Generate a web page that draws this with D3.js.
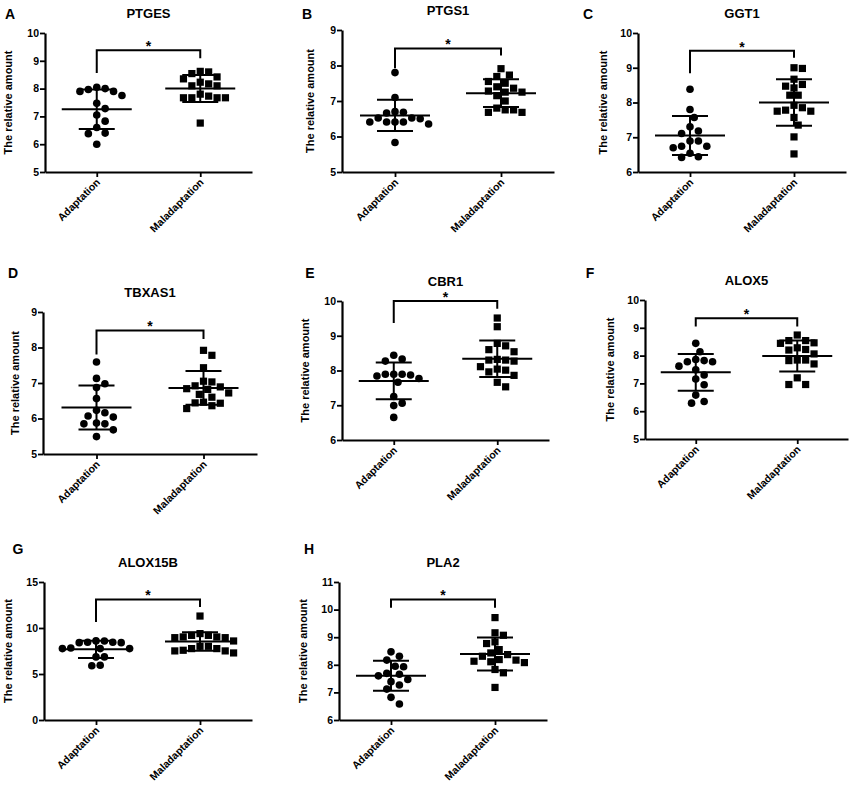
<!DOCTYPE html>
<html>
<head>
<meta charset="utf-8">
<script src="https://cdn.jsdelivr.net/npm/d3@7"></script>
<style>
  body { margin: 0; background: #fff; }
  text { font-family: "Liberation Sans", Arial, sans-serif; font-weight: bold; fill: #000; }
</style>
</head>
<body>
<script>
const width = 856,
    height = 786;

// chart data
const groups = ['Adaptation', 'Maladaptation'];
const genes = ['PTGES', 'PTGS1', 'GGT1', 'TBXAS1', 'CBR1', 'ALOX5', 'ALOX15B', 'PLA2'];
const letters = ['A', 'B', 'C', 'D', 'E', 'F', 'G', 'H'];
const yDomains = [[5, 10], [5, 9], [6, 10], [5, 9], [6, 10], [5, 10], [0, 15], [6, 11]];
const yTickStep = [1, 1, 1, 1, 1, 1, 5, 1];

const adaptation = [
  [8.0, 7.9, 8.05, 7.9, 7.97, 7.75, 7.47, 7.28, 7.05, 6.83, 6.6, 6.4, 6.38, 6.0],
  [7.80, 7.10, 6.70, 6.68, 6.66, 6.52, 6.50, 6.41, 6.41, 6.35, 6.41, 6.41, 6.52, 5.83],
  [8.38, 7.80, 7.57, 7.30, 7.18, 7.11, 6.89, 6.89, 6.74, 6.70, 6.74, 6.54, 6.42, 6.44],
  [7.59, 7.13, 6.87, 6.98, 6.56, 6.16, 6.23, 6.04, 6.07, 5.85, 5.85, 5.87, 5.68, 5.49],
  [8.44, 8.27, 8.33, 7.89, 7.87, 7.77, 7.84, 7.89, 7.89, 7.66, 7.25, 7.06, 6.99, 6.65],
  [8.44, 8.14, 7.82, 7.78, 7.78, 7.86, 7.62, 7.49, 7.30, 7.16, 6.95, 6.58, 6.29, 6.35],
  [8.45, 8.45, 8.59, 8.60, 8.41, 8.41, 7.76, 7.76, 7.76, 7.83, 6.86, 6.86, 5.90, 5.95],
  [8.47, 8.31, 8.17, 7.95, 7.93, 7.66, 7.60, 7.69, 7.47, 7.39, 7.27, 7.12, 6.82, 6.58]
];

const maladaptation = [
  [8.62, 8.54, 8.42, 8.6, 8.35, 8.23, 8.1, 8.1, 8.17, 7.73, 7.67, 7.67, 7.67, 7.67, 7.8, 6.76],
  [7.91, 7.69, 7.73, 7.50, 7.55, 7.36, 7.25, 7.40, 7.28, 7.15, 7.25, 7.00, 6.80, 6.75, 6.68, 6.68, 6.75],
  [8.98, 9.0, 8.67, 8.47, 8.42, 8.52, 8.21, 8.21, 7.85, 7.75, 7.75, 7.78, 7.92, 7.57, 7.35, 7.01, 6.52],
  [7.92, 7.78, 7.43, 7.03, 7.05, 6.89, 6.84, 6.82, 6.92, 6.72, 6.60, 6.68, 6.43, 6.44, 6.46, 6.28, 6.36],
  [9.51, 9.26, 8.78, 8.60, 8.54, 8.71, 8.30, 8.27, 8.30, 8.32, 8.04, 7.96, 8.01, 8.11, 7.86, 7.66, 7.53],
  [8.74, 8.54, 8.46, 8.44, 8.54, 8.28, 8.20, 8.06, 8.22, 7.84, 7.70, 7.82, 7.84, 7.20, 6.96, 6.96],
  [11.3, 9.39, 9.03, 8.95, 9.2, 8.95, 9.03, 9.2, 8.59, 8.01, 7.76, 7.51, 7.29, 7.51, 7.58, 7.76, 8.01],
  [9.71, 9.16, 9.07, 8.77, 8.83, 8.55, 8.43, 8.37, 8.31, 8.19, 8.11, 8.08, 8.13, 8.17, 7.83, 7.71, 7.18]
];

// significance bracket: bar height, left leg end, right leg end (data units)
const bracketTop = [9.38, 8.48, 9.49, 8.48, 10.0, 9.34, 13.1, 10.37];
const bracketLeft = [8.56, 7.92, 8.84, 7.80, 9.37, 9.05, 10.65, 10.07];
const bracketRight = [9.09, 8.28, 9.29, 8.24, 9.78, 9.05, 12.27, 10.07];

// panel frames (pixels): axis box, y label offset, panel letter position
const frames = [
  {x0: 45, x1: 252, y0: 33, y1: 172, lab: 37, lx: 10, ly: 19},
  {x0: 342, x1: 554, y0: 30, y1: 172, lab: 32, lx: 307, ly: 19},
  {x0: 638, x1: 846, y0: 33, y1: 172, lab: 35, lx: 588, ly: 19},
  {x0: 43, x1: 257, y0: 312, y1: 454, lab: 28, lx: 13, ly: 278},
  {x0: 342, x1: 549, y0: 301, y1: 440, lab: 37, lx: 310, ly: 278},
  {x0: 645, x1: 848, y0: 300, y1: 439, lab: 35, lx: 590, ly: 278},
  {x0: 44, x1: 252, y0: 582, y1: 720, lab: 36, lx: 18, ly: 554},
  {x0: 339, x1: 547, y0: 582, y1: 720, lab: 36, lx: 309, ly: 554}
];

const svg = d3.select('body').append('svg')
    .attr('width', width)
    .attr('height', height);

// simple beeswarm: place each point at the smallest free offset from the centre
function swarm(vals, y, cx, d) {
  const pts = vals.map(v => ({v: v, y: y(v)})).sort((a, b) => a.y - b.y);
  const placed = [];
  pts.forEach(p => {
    for (let k = 0; k < 80; k++) {
      const off = k === 0 ? 0 : (k % 2 ? 1 : -1) * Math.ceil(k / 2) * d / 2;
      const ok = placed.every(q => Math.hypot(q.x - (cx + off), q.y - p.y) >= d - 0.01);
      if (ok) { p.x = cx + off; break; }
    }
    placed.push(p);
  });
  return placed;
}

genes.forEach((gene, i) => {
  const f = frames[i];
  const g = svg.append('g').attr('class', 'panel');

  const x = d3.scalePoint().domain(groups).range([f.x0, f.x1]).padding(0.5);
  const y = d3.scaleLinear().domain(yDomains[i]).range([f.y1, f.y0]);

  const yAxis = d3.axisLeft(y)
      .tickValues(d3.range(yDomains[i][0], yDomains[i][1] + 0.001, yTickStep[i]))
      .tickFormat(d3.format('d'))
      .tickSize(5).tickSizeOuter(0).tickPadding(1);
  const ya = g.append('g').attr('transform', `translate(${f.x0},0)`).call(yAxis);
  ya.select('.domain').attr('stroke-width', 2.2);
  ya.selectAll('.tick line').attr('stroke-width', 1.8);
  ya.selectAll('.tick text').style('font-size', '10.5px').style('font-weight', 'bold')
      .style('font-family', '"Liberation Sans", Arial, sans-serif');

  const xAxis = d3.axisBottom(x).tickSize(5).tickSizeOuter(0).tickFormat('');
  const xa = g.append('g').attr('transform', `translate(0,${f.y1})`).call(xAxis);
  xa.select('.domain').attr('stroke-width', 2.2);
  xa.selectAll('.tick line').attr('stroke-width', 1.8);

  g.selectAll('.xlab').data(groups).enter().append('text')
      .attr('class', 'xlab')
      .attr('transform', d => `translate(${x(d) + 4},${f.y1 + 11}) rotate(-45)`)
      .attr('text-anchor', 'end')
      .style('font-size', '10.5px')
      .text(d => d);

  g.append('text')
      .attr('transform', `translate(${f.x0 - f.lab},${(f.y0 + f.y1) / 2}) rotate(-90)`)
      .attr('text-anchor', 'middle')
      .attr('dy', '0.35em')
      .style('font-size', '11px')
      .text('The relative amount');

  g.append('text')
      .attr('x', (f.x0 + f.x1) / 2)
      .attr('y', f.y0 - 15)
      .attr('text-anchor', 'middle')
      .style('font-size', '13px')
      .text(gene);

  g.append('text')
      .attr('x', f.lx)
      .attr('y', f.ly)
      .attr('text-anchor', 'middle')
      .style('font-size', '14px')
      .text(letters[i]);

  // bracket and star
  const xa0 = x(groups[0]), xa1 = x(groups[1]);
  g.append('path')
      .attr('d', `M${xa0},${y(bracketLeft[i])}V${y(bracketTop[i])}H${xa1}V${y(bracketRight[i])}`)
      .attr('fill', 'none').attr('stroke', '#000').attr('stroke-width', 2);
  g.append('text')
      .attr('x', (xa0 + xa1) / 2)
      .attr('y', y(bracketTop[i]) + 1)
      .attr('text-anchor', 'middle')
      .style('font-size', '14px')
      .text('*');

  [adaptation[i], maladaptation[i]].forEach((vals, gi) => {
    const cx = x(groups[gi]);
    const pts = swarm(vals, y, cx, 8.4);
    if (gi === 0) {
      g.selectAll(null).data(pts).enter().append('circle')
          .attr('cx', d => d.x).attr('cy', d => d.y).attr('r', 3.8).attr('fill', '#000');
    } else {
      g.selectAll(null).data(pts).enter().append('rect')
          .attr('x', d => d.x - 3.6).attr('y', d => d.y - 3.6)
          .attr('width', 7.2).attr('height', 7.2).attr('fill', '#000');
    }

    const m = d3.mean(vals), s = d3.deviation(vals);
    const lines = [
      [cx - 35, y(m), cx + 35, y(m)],
      [cx - 18, y(m + s), cx + 18, y(m + s)],
      [cx - 18, y(m - s), cx + 18, y(m - s)],
      [cx, y(m + s), cx, y(m - s)]
    ];
    g.selectAll(null).data(lines).enter().append('line')
        .attr('x1', d => d[0]).attr('y1', d => d[1])
        .attr('x2', d => d[2]).attr('y2', d => d[3])
        .attr('stroke', '#000').attr('stroke-width', 2);
  });
});
</script>
</body>
</html>
